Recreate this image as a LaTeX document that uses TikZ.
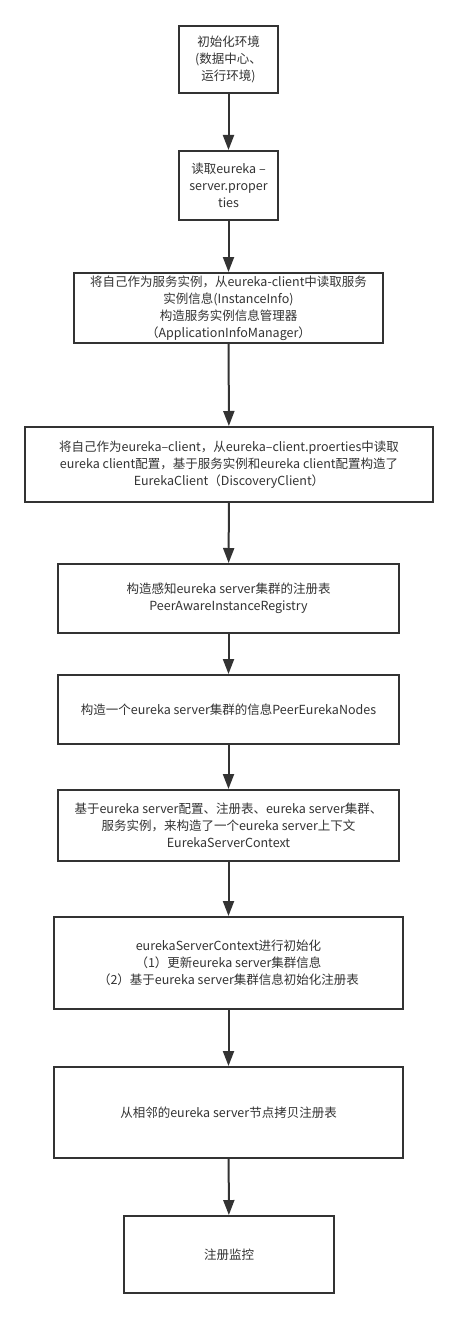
\documentclass[tikz,border=0pt]{standalone}
\usepackage{fontspec}
\setmainfont{Noto Sans CJK SC}
\usetikzlibrary{arrows.meta}
\definecolor{linegray}{RGB}{51,51,51}

\begin{document}
\begin{tikzpicture}[x=1pt,y=-1pt,
  stepbox/.style={draw=linegray,line width=2pt,fill=white,align=center,inner sep=0pt,
    font=\fontsize{12.5}{17}\selectfont,text=linegray},
  flow/.style={draw=linegray,line width=2pt,-{Triangle[length=15pt,width=11pt]}}]
  \useasboundingbox (0,0) rectangle (458,1319);
  % start-up steps, top to bottom
  \node[stepbox,minimum width=99pt,minimum height=67pt] (init) at (228.5,59.5) {初始化环境\\(数据中心、\\运行环境)};
  \node[stepbox,minimum width=99pt,minimum height=69pt] (props) at (228.5,185.5) {读取eureka –\\server.proper\\ties};
  \node[stepbox,minimum width=309pt,minimum height=70pt] (inst) at (228.5,308) {将自己作为服务实例，从eureka-client中读取服务\\实例信息(InstanceInfo)\\构造服务实例信息管理器\\（ApplicationInfoManager）};
  \node[stepbox,minimum width=408pt,minimum height=75pt] (client) at (229,464.5) {将自己作为eureka–client，从eureka–client.proerties中读取\\eureka client配置，基于服务实例和eureka client配置构造了\\EurekaClient（DiscoveryClient）};
  \node[stepbox,minimum width=341pt,minimum height=69pt] (registry) at (228.5,598.5) {构造感知eureka server集群的注册表\\PeerAwareInstanceRegistry};
  \node[stepbox,minimum width=341pt,minimum height=69pt] (peers) at (228.5,709.5) {构造一个eureka server集群的信息PeerEurekaNodes};
  \node[stepbox,minimum width=341pt,minimum height=71pt] (context) at (228.5,825.5) {基于eureka server配置、注册表、eureka server集群、\\服务实例，来构造了一个eureka server上下文\\EurekaServerContext};
  \node[stepbox,minimum width=349pt,minimum height=92pt] (ctxinit) at (228.5,963) {eurekaServerContext进行初始化\\（1）更新eureka server集群信息\\（2）基于eureka server集群信息初始化注册表};
  \node[stepbox,minimum width=349pt,minimum height=91pt] (copy) at (228.5,1112.5) {从相邻的eureka server节点拷贝注册表};
  \node[stepbox,minimum width=210pt,minimum height=77pt] (monitor) at (229,1254.5) {注册监控};
  % arrows
  \foreach \a/\b in {init/props,props/inst,inst/client,client/registry,registry/peers,
    peers/context,context/ctxinit,ctxinit/copy,copy/monitor}
    \draw[flow] (\a) -- (\b);
\end{tikzpicture}
\end{document}
